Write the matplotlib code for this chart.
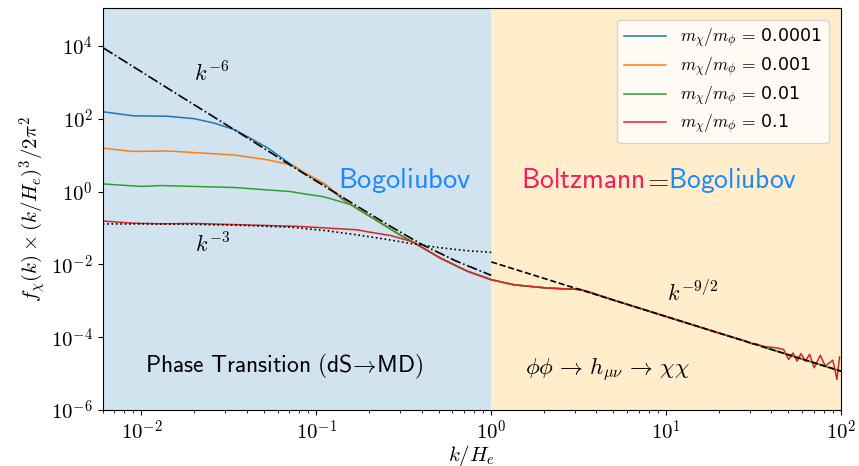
import numpy as np
import matplotlib
matplotlib.use('Agg')
import matplotlib.pyplot as plt
from matplotlib.ticker import FuncFormatter, NullLocator

plt.rcParams['mathtext.fontset'] = 'cm'

# ---- data -----------------------------------------------------------
labels = [r'$m_\chi/m_\phi\,=\,$0.0001', r'$m_\chi/m_\phi\,=\,$0.001',
          r'$m_\chi/m_\phi\,=\,$0.01', r'$m_\chi/m_\phi\,=\,$0.1']

# low-k part of each mass ratio
k_blue = [0.006, 0.009, 0.014, 0.02, 0.026, 0.034, 0.042, 0.053, 0.07, 0.09, 0.115, 0.14]
f_blue = [155, 120, 117, 100, 76, 50, 29, 15.5, 6.0, 2.8, 1.45, 0.63]

k_orange = [0.006, 0.009, 0.014, 0.034, 0.053, 0.0713, 0.09, 0.11, 0.135]
f_orange = [15.5, 12.6, 13.0, 10.1, 7.4, 5.4, 2.9, 1.7, 0.8]

k_green = [0.006, 0.01, 0.013, 0.034, 0.071, 0.081, 0.11]
f_green = [1.62, 1.38, 1.46, 1.29, 1.0, 0.90, 0.72]

k_red = [0.006, 0.0091, 0.013, 0.02, 0.081, 0.171, 0.195, 0.266]
f_red = [0.155, 0.135, 0.13, 0.133, 0.11, 0.089, 0.079, 0.062]

# where the three lighter masses have merged
k_merge = [0.157, 0.213, 0.303]
f_merge = [0.44, 0.18, 0.063]

# all four together
k_tail = [0.354, 0.513, 0.73, 1.0, 1.35, 2.09, 3.24, 3.69, 5.0, 10.0, 20.0, 28, 31, 33]
f_tail = [0.042, 0.0148, 0.0065, 0.0038, 0.00275, 0.00224, 0.00204, 0.0017,
          0.00105, 3.7e-4, 1.31e-4, 8.0e-5, 6.7e-5, 6.4e-5]

k_end = [36, 100]
f_end = [5.4e-5, 1.17e-5]

# noisy red tail
k_noise = [36.1, 43.1, 47.0, 50.2, 53.2, 56.1, 59.0, 62.5, 66.2, 70.3, 76.2, 81.3, 89.9, 94.8, 98.2]
f_noise = [5.6e-5, 5.1e-5, 4.6e-5, 2.45e-5, 3.7e-5, 2.2e-5, 3.55e-5, 2.2e-5, 3.4e-5,
           1.45e-5, 3.2e-5, 1.62e-5, 2.35e-5, 6.9e-6, 2.9e-5]

# reference lines
k_k6 = [0.00607, 0.0158, 0.0398, 0.0794, 0.158, 0.266, 0.404, 0.631, 1.0]
f_k6 = [8700, 490, 31, 3.8, 0.5, 0.11, 0.0347, 0.0123, 0.0050]

k_k3 = [0.006, 0.01, 0.02, 0.04, 0.071, 0.112, 0.17, 0.25, 0.33, 0.5, 0.71, 1.0]
f_k3 = [0.129, 0.129, 0.126, 0.117, 0.105, 0.085, 0.065, 0.049, 0.039, 0.029, 0.024, 0.0214]

k_k92 = [1.0, 100.0]
f_k92 = [0.0117, 1.17e-5]

# ---- plot -------------------------------------------------------------
fig = plt.figure(figsize=(8.59, 4.66), dpi=100)
ax = fig.add_axes([0.1195, 0.12, 0.979 - 0.1195, 0.983 - 0.12])

ax.axvspan(0.006, 1.0, color='C0', alpha=0.2, lw=0)
ax.axvspan(1.0, 100, color='orange', alpha=0.2, lw=0)

cols = ['C0', 'C1', 'C2', 'C3']
series = [
    (k_blue + k_merge + k_tail + k_end, f_blue + f_merge + f_tail + f_end),
    (k_orange + k_merge + k_tail + k_end, f_orange + f_merge + f_tail + f_end),
    (k_green + k_merge + k_tail + k_end, f_green + f_merge + f_tail + f_end),
    (k_red + k_tail + k_noise, f_red + f_tail + f_noise),
]
for (kk, ff), c, lab in zip(series, cols, labels):
    ax.plot(kk, ff, color=c, lw=1.1, label=lab)

ax.plot(k_k6, f_k6, 'k-.', lw=1.2)
ax.plot(k_k3, f_k3, 'k:', lw=1.2)
ax.plot(k_k92, f_k92, 'k--', lw=1.2)

ax.set_xscale('log')
ax.set_yscale('log')
ax.set_xlim(0.006, 100)
ax.set_ylim(1e-6, 1.1e5)
ax.set_yticks([1e-6, 1e-4, 1e-2, 1e0, 1e2, 1e4])
ax.yaxis.set_minor_locator(NullLocator())
pow10 = FuncFormatter(lambda v, pos: r'$10^{%d}$' % round(np.log10(v)))
ax.xaxis.set_major_formatter(pow10)
ax.yaxis.set_major_formatter(pow10)
ax.tick_params(labelsize=15)

ax.set_xlabel(r'$k/H_e$', fontsize=15, labelpad=-1)
ax.set_ylabel(r'$f_\chi(k)\times(k/H_e)^3/2\pi^2$', fontsize=15, labelpad=2)

ax.text(0.0252, 1780, r'$k^{-6}$', fontsize=16, ha='center', va='center')
ax.text(0.0256, 0.035, r'$k^{-3}$', fontsize=16, ha='center', va='center')
ax.text(14.2, 1.65e-3, r'$k^{-9/2}$', fontsize=16, ha='center', va='center')

blue_txt = '#1E88FF'
red_txt = '#F01E5A'
ax.text(0.319, 1.24, r'$\mathsf{Bogoliubov}$', fontsize=20.5, color=blue_txt,
        ha='center', va='baseline')

# Boltzmann=Bogoliubov in two colours, pieces placed one after another
fig.canvas.draw()
x_disp = ax.transData.transform((1.49, 1.24))[0]
y_base = 1.24
for txt, c in [(r'$\mathsf{Boltzmann}$', red_txt), (r'$=$', 'k'),
               (r'$\mathsf{Bogoliubov}$', blue_txt)]:
    x_dat = ax.transData.inverted().transform((x_disp, 0))[0]
    t = ax.text(x_dat, y_base, txt, fontsize=19.8, color=c, ha='left', va='baseline')
    fig.canvas.draw()
    x_disp = t.get_window_extent().x1 - 2

ax.text(0.0653, 1.55e-5, r'$\mathsf{Phase\ Transition\ (dS}\!\rightarrow\!\mathsf{MD)}$',
        fontsize=17, ha='center', va='center')
ax.text(4.6, 1.3e-5, r'$\phi\phi\,\rightarrow\,h_{\mu\nu}\,\rightarrow\,\chi\chi$',
        fontsize=16.5, ha='center', va='center')

ax.legend(loc='upper right', fontsize=12.5, labelspacing=0.32, handlelength=2.4,
          handletextpad=0.8, borderaxespad=0.7)

fig.savefig('out.png', dpi=100)
